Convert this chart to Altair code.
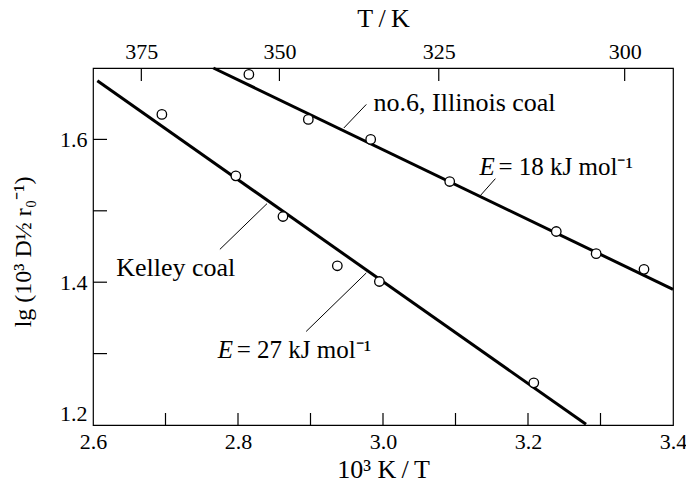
import altair as alt
import pandas as pd

# Measured diffusion data: x = 10^3 K / T, y = lg(10^3 D^(1/2) r0^-1)
kelley_x = [2.695, 2.797, 2.862, 2.937, 2.995, 3.208]
kelley_y = [1.635, 1.549, 1.492, 1.423, 1.401, 1.259]
illinois_x = [2.815, 2.897, 2.983, 3.092, 3.239, 3.294, 3.360]
illinois_y = [1.691, 1.628, 1.600, 1.541, 1.471, 1.440, 1.418]

# Fitted Arrhenius lines (end points)
kelley_fit_x = [2.606, 3.280]
kelley_fit_y = [1.682, 1.201]
illinois_fit_x = [2.766, 3.400]
illinois_fit_y = [1.700, 1.390]

# Axis ticks
x_labels = [2.6, 2.8, 3.0, 3.2, 3.4]
x_minor = [2.7, 2.8, 2.9, 3.0, 3.1, 3.2, 3.3]
y_labels = [1.2, 1.4, 1.6]
y_minor = [1.3, 1.4, 1.5, 1.6]
temps = [375, 350, 325, 300]

# Annotation labels and their leader lines
ann_text = ["no.6, Illinois coal", "Kelley coal"]
ann_x = [2.987, 2.632]
ann_y = [1.651, 1.420]
energy_text = ["= 18 kJ mol⁻¹", "= 27 kJ mol⁻¹"]
energy_x = [3.133, 2.772]
energy_y = [1.561, 1.305]
lead_x = [2.946, 3.134, 2.775, 2.894]
lead_y = [1.616, 1.521, 1.446, 1.331]
lead_x2 = [2.977, 3.155, 2.840, 2.977]
lead_y2 = [1.649, 1.545, 1.510, 1.413]

W, H = 580, 357
FONT = "Liberation Serif"
TICK = 13

xs = alt.Scale(domain=[2.6, 3.4], nice=False, zero=False)
ys = alt.Scale(domain=[1.2, 1.7], nice=False, zero=False)

pts = pd.DataFrame({
    "x": kelley_x + illinois_x,
    "y": kelley_y + illinois_y,
    "coal": ["Kelley"] * len(kelley_x) + ["Illinois"] * len(illinois_x),
})
fits = pd.DataFrame({
    "x": kelley_fit_x + illinois_fit_x,
    "y": kelley_fit_y + illinois_fit_y,
    "coal": ["Kelley"] * 2 + ["Illinois"] * 2,
})
ann = pd.DataFrame({"text": ann_text, "x": ann_x, "y": ann_y})
energy = pd.DataFrame({"text": energy_text, "x": energy_x, "y": energy_y})
leads = pd.DataFrame({"x": lead_x, "y": lead_y, "x2": lead_x2, "y2": lead_y2})
top_ticks = pd.DataFrame({"pos": [1000.0 / t for t in temps]})
bottom_ticks = pd.DataFrame({"v": x_minor})
left_ticks = pd.DataFrame({"v": y_minor})

bottom_axis = alt.Axis(
    values=x_labels, format=".1f", tickSize=0, domain=False, grid=False,
    labelPadding=6, labelFlush=False, labelOverlap=False,
    title="10³ K\u2009/\u2009T", titleFontSize=26,
    titleX=W / 2, titleY=44, titleBaseline="middle",
)
left_axis = alt.Axis(
    values=y_labels, format=".1f", tickSize=0, domain=False, grid=False,
    labelPadding=6, labelFlush=True, labelOverlap=False,
    title="lg (10³ D½ r₀⁻¹)", titleFontSize=24, titleX=-70, titleY=H / 2 + 5,
    titleBaseline="middle", titleAngle=-90,
)
top_axis = alt.Axis(
    orient="top", values=[1000.0 / t for t in temps],
    labelExpr="format(1000 / datum.value, '.0f')",
    tickSize=0, domain=False, grid=False, labelPadding=5,
    labelFlush=False, labelOverlap=False,
    title="T\u2009/\u2009K", titleFontSize=26,
    titleX=W / 2, titleY=-50, titleBaseline="middle",
)

fit_lines = alt.Chart(fits).mark_line(color="black", strokeWidth=3).encode(
    x=alt.X("x:Q", scale=xs, axis=None),
    y=alt.Y("y:Q", scale=ys, axis=None),
    detail="coal:N",
)

leaders = alt.Chart(leads).mark_rule(color="black", strokeWidth=1).encode(
    x=alt.X("x:Q", scale=xs, axis=None),
    y=alt.Y("y:Q", scale=ys, axis=None),
    x2="x2:Q",
    y2="y2:Q",
)

points = alt.Chart(pts).mark_point(
    shape="circle", filled=True, fill="white", stroke="black",
    strokeWidth=1.3, size=90, opacity=1,
).encode(
    x=alt.X("x:Q", scale=xs, axis=bottom_axis),
    y=alt.Y("y:Q", scale=ys, axis=left_axis),
)

labels = alt.Chart(ann).mark_text(
    align="left", baseline="middle", font=FONT, fontSize=26, color="black",
).encode(
    x=alt.X("x:Q", scale=xs, axis=None),
    y=alt.Y("y:Q", scale=ys, axis=None),
    text="text:N",
)

# Activation energies: italic symbol followed by the value
e_symbol = alt.Chart(energy).mark_text(
    align="left", baseline="middle", font=FONT, fontSize=25,
    fontStyle="italic", color="black",
).encode(
    x=alt.X("x:Q", scale=xs, axis=None),
    y=alt.Y("y:Q", scale=ys, axis=None),
    text=alt.value("E"),
)
e_value = alt.Chart(energy).mark_text(
    align="left", baseline="middle", font=FONT, fontSize=25, color="black", dx=19,
).encode(
    x=alt.X("x:Q", scale=xs, axis=None),
    y=alt.Y("y:Q", scale=ys, axis=None),
    text="text:N",
)

top = alt.Chart(top_ticks).mark_rule(color="black", strokeWidth=1.2).encode(
    x=alt.X("pos:Q", scale=xs, axis=top_axis),
    y=alt.value(0),
    y2=alt.value(TICK),
)

bottom = alt.Chart(bottom_ticks).mark_rule(color="black", strokeWidth=1.2).encode(
    x=alt.X("v:Q", scale=xs, axis=None),
    y=alt.value(H - TICK + 1),
    y2=alt.value(H),
)

left = alt.Chart(left_ticks).mark_rule(color="black", strokeWidth=1.2).encode(
    y=alt.Y("v:Q", scale=ys, axis=None),
    x=alt.value(0),
    x2=alt.value(TICK + 1),
)

chart = alt.layer(
    fit_lines, leaders, points, labels, e_symbol, e_value, top, bottom, left
).resolve_scale(x="shared", y="shared").resolve_axis(
    x="independent", y="independent"
).properties(
    width=W, height=H,
    autosize=alt.AutoSizeParams(type="none"),
    padding={"left": 93, "top": 68, "right": 13, "bottom": 65},
    background="white",
).configure_view(
    stroke="black", strokeWidth=1.2,
).configure_axis(
    labelFont=FONT, labelFontSize=22, labelColor="black",
    titleFont=FONT, titleColor="black", titleFontWeight="normal",
)

chart.save("out.html", embed_options={"renderer": "svg", "actions": False})
